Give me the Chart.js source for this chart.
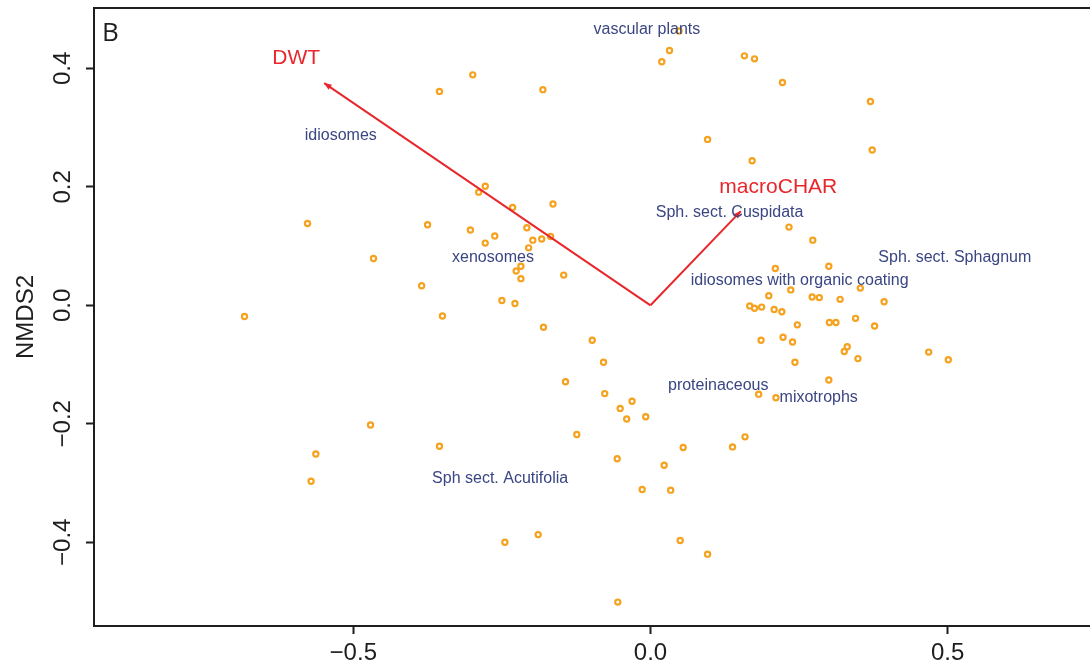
<!DOCTYPE html>
<html>
<head>
<meta charset="utf-8">
<script src="https://cdn.jsdelivr.net/npm/chart.js@4"></script>
<style>
  html, body { margin: 0; padding: 0; background: #fff; overflow: hidden; }
  #wrap { width: 1090px; height: 668px; position: relative; }
</style>
</head>
<body>
<div id="wrap"><canvas id="chart"></canvas></div>
<script>
// site scores (NMDS1, NMDS2)
const siteX = [0.048, 0.032, 0.019, 0.158, 0.175, -0.299, -0.355, -0.181, 0.096, 0.171,
  -0.278, -0.289, -0.232, -0.164, 0.222, 0.370, 0.373, -0.577, -0.466, -0.683,
  -0.375, -0.303, -0.262, -0.278, -0.208, -0.198, -0.183, -0.168, -0.205, -0.218,
  -0.226, -0.218, -0.146, -0.385, -0.250, -0.228, -0.350, -0.180, -0.098, -0.079,
  -0.143, -0.077, -0.031, -0.051, -0.008, -0.040, 0.210, 0.199, 0.167, 0.175,
  0.187, 0.208, 0.221, 0.186, 0.182, 0.211, 0.233, 0.273, 0.300, 0.236,
  0.353, 0.272, 0.284, 0.319, 0.393, 0.247, 0.301, 0.312, 0.345, 0.377,
  0.223, 0.239, 0.331, 0.326, 0.349, 0.468, 0.501, 0.243, 0.300, -0.471,
  -0.563, -0.571, -0.355, -0.124, -0.056, 0.055, 0.023, -0.014, 0.034, 0.138,
  0.159, -0.245, -0.189, 0.050, 0.096, -0.055];
const siteY = [0.463, 0.430, 0.411, 0.421, 0.416, 0.389, 0.361, 0.364, 0.280, 0.244,
  0.201, 0.191, 0.165, 0.171, 0.376, 0.344, 0.262, 0.138, 0.079, -0.019,
  0.136, 0.127, 0.117, 0.105, 0.131, 0.110, 0.112, 0.116, 0.097, 0.066,
  0.058, 0.045, 0.051, 0.033, 0.008, 0.003, -0.018, -0.037, -0.059, -0.096,
  -0.129, -0.149, -0.162, -0.174, -0.188, -0.192, 0.062, 0.016, -0.001, -0.005,
  -0.003, -0.007, -0.011, -0.059, -0.150, -0.156, 0.132, 0.110, 0.066, 0.026,
  0.029, 0.014, 0.013, 0.010, 0.006, -0.033, -0.029, -0.029, -0.022, -0.035,
  -0.054, -0.062, -0.070, -0.078, -0.090, -0.079, -0.092, -0.096, -0.126, -0.202,
  -0.251, -0.297, -0.238, -0.218, -0.259, -0.240, -0.270, -0.311, -0.312, -0.239,
  -0.222, -0.400, -0.387, -0.397, -0.420, -0.501];

// fitted environmental vectors
const vectorNames = ['DWT', 'macroCHAR'];
const vectorX = [-0.549, 0.152];
const vectorY = [0.375, 0.159];
const vectorLabelX = [-0.596, 0.215];
const vectorLabelY = [0.417, 0.200];

// group labels
const groupNames = ['vascular plants', 'idiosomes', 'Sph. sect. Cuspidata', 'xenosomes',
  'Sph. sect. Sphagnum', 'idiosomes with organic coating', 'proteinaceous', 'mixotrophs',
  'Sph sect. Acutifolia'];
const groupX = [-0.006, -0.521, 0.133, -0.265, 0.512, 0.251, 0.114, 0.283, -0.253];
const groupY = [0.466, 0.286, 0.157, 0.080, 0.081, 0.041, -0.136, -0.155, -0.293];

const xTickValues = [-0.5, 0, 0.5];
const yTickValues = [-0.4, -0.2, 0, 0.2, 0.4];

const FONT = "'Liberation Sans', Arial, sans-serif";
const RED = '#e8272c';
const BLUE = '#3a4583';
const ORANGE = '#f5a21f';
const INK = '#1e1e1e';

function fmt(v) {
  return v.toFixed(1).replace('-', '\u2212');
}

const arrowDatasets = vectorNames.map((name, i) => ({
  label: name,
  data: [{ x: 0, y: 0 }, { x: vectorX[i], y: vectorY[i] }],
  showLine: true,
  borderColor: RED,
  borderWidth: 2,
  pointRadius: 0,
  order: 1
}));

const overlay = {
  id: 'overlay',
  afterDatasetsDraw(chart) {
    const { ctx, chartArea, scales: { x, y } } = chart;
    ctx.save();
    // top of the box
    ctx.strokeStyle = INK;
    ctx.lineWidth = 2;
    ctx.beginPath();
    ctx.moveTo(chartArea.left, chartArea.top);
    ctx.lineTo(chartArea.right, chartArea.top);
    ctx.stroke();

    // arrow heads
    ctx.fillStyle = RED;
    for (let i = 0; i < vectorNames.length; i++) {
      const x0 = x.getPixelForValue(0), y0 = y.getPixelForValue(0);
      const x1 = x.getPixelForValue(vectorX[i]), y1 = y.getPixelForValue(vectorY[i]);
      const a = Math.atan2(y1 - y0, x1 - x0);
      ctx.beginPath();
      ctx.moveTo(x1, y1);
      ctx.lineTo(x1 - 8 * Math.cos(a - 0.4), y1 - 8 * Math.sin(a - 0.4));
      ctx.lineTo(x1 - 8 * Math.cos(a + 0.4), y1 - 8 * Math.sin(a + 0.4));
      ctx.closePath();
      ctx.fill();
    }

    ctx.textAlign = 'center';
    ctx.textBaseline = 'middle';
    ctx.font = '21px ' + FONT;
    for (let i = 0; i < vectorNames.length; i++) {
      ctx.fillText(vectorNames[i], x.getPixelForValue(vectorLabelX[i]), y.getPixelForValue(vectorLabelY[i]));
    }

    ctx.fillStyle = BLUE;
    ctx.font = '16px ' + FONT;
    groupNames.forEach((g, i) => {
      ctx.fillText(g, x.getPixelForValue(groupX[i]), y.getPixelForValue(groupY[i]));
    });

    // panel letter
    ctx.fillStyle = INK;
    ctx.textAlign = 'left';
    ctx.textBaseline = 'alphabetic';
    ctx.font = "26px 'Open Sans', sans-serif";
    ctx.fillText('B', chartArea.left + 8, chartArea.top + 33);

    // rotated y tick labels
    ctx.font = '24px ' + FONT;
    ctx.textAlign = 'center';
    ctx.textBaseline = 'middle';
    y.ticks.forEach(t => {
      ctx.save();
      ctx.translate(y.right - 31, y.getPixelForValue(t.value));
      ctx.rotate(-Math.PI / 2);
      ctx.fillText(fmt(t.value), 0, 0);
      ctx.restore();
    });
    ctx.restore();
  }
};

new Chart(document.getElementById('chart'), {
  type: 'scatter',
  data: {
    datasets: [{
      label: 'sites',
      data: siteX.map((v, i) => ({ x: v, y: siteY[i] })),
      pointStyle: 'circle',
      pointRadius: 2.6,
      borderWidth: 2.2,
      borderColor: ORANGE,
      backgroundColor: '#fff',
      order: 2
    }, ...arrowDatasets]
  },
  options: {
    responsive: true,
    maintainAspectRatio: false,
    animation: false,
    layout: { autoPadding: false, padding: { top: 8, right: 0, bottom: 0, left: 0 } },
    plugins: { legend: { display: false }, tooltip: { enabled: false } },
    scales: {
      x: {
        type: 'linear',
        min: -0.9362,
        max: 0.7394,
        afterBuildTicks: s => { s.ticks = xTickValues.map(v => ({ value: v })); },
        afterFit: s => { s.height = 42; },
        grid: { drawOnChartArea: false, drawTicks: true, tickLength: 8, tickColor: INK, tickWidth: 2 },
        border: { display: true, color: INK, width: 2 },
        ticks: {
          padding: 5,
          color: INK,
          font: { family: FONT, size: 24 },
          maxRotation: 0,
          callback: v => fmt(v)
        }
      },
      y: {
        type: 'linear',
        min: -0.5413,
        max: 0.5018,
        afterBuildTicks: s => { s.ticks = yTickValues.map(v => ({ value: v })); },
        afterFit: s => { s.width = 94; },
        grid: { drawOnChartArea: false, drawTicks: true, tickLength: 8, tickColor: INK, tickWidth: 2 },
        border: { display: true, color: INK, width: 2 },
        ticks: { display: false },
        title: {
          display: true,
          text: 'NMDS2',
          color: INK,
          font: { family: FONT, size: 24 },
          padding: { top: 12, bottom: 0 }
        }
      }
    }
  },
  plugins: [overlay]
});
</script>
</body>
</html>
